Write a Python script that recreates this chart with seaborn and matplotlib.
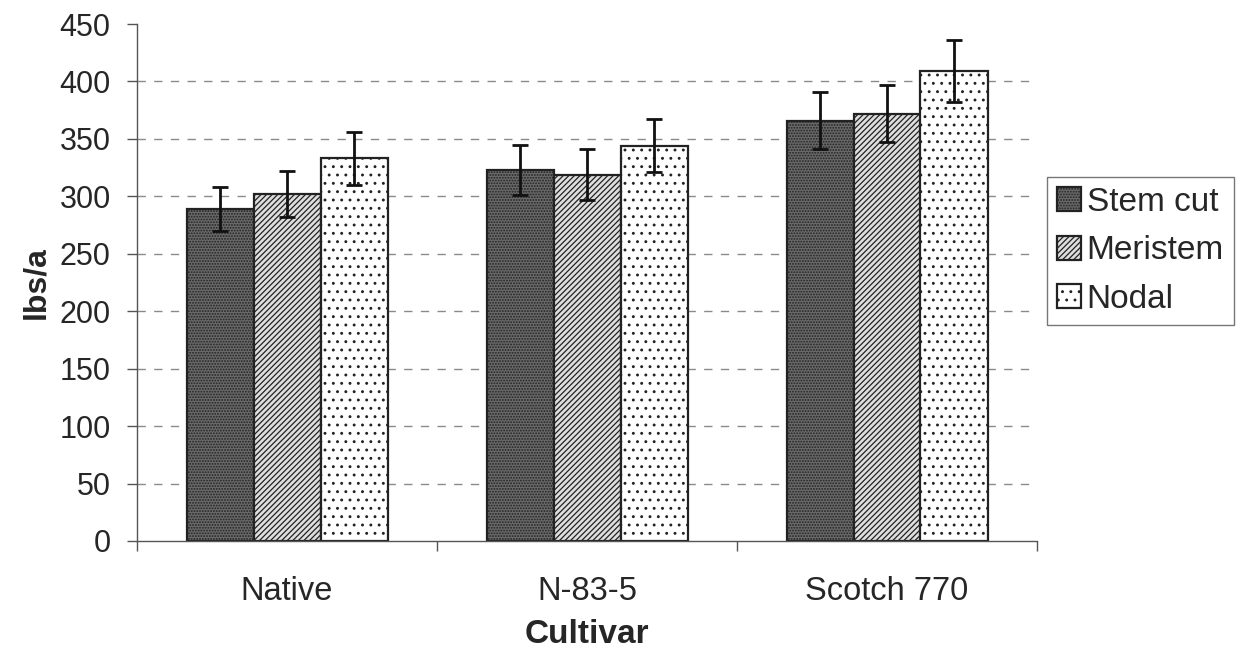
import matplotlib
matplotlib.use("Agg")
import matplotlib.pyplot as plt
import seaborn as sns
import pandas as pd
import numpy as np

# Yield by cultivar and propagation method
cultivars = ["Native", "N-83-5", "Scotch 770"]
methods = ["Stem cut", "Meristem", "Nodal"]
stem_cut = [289, 323, 366]
meristem = [302, 319, 372]
nodal = [333, 344, 409]
stem_cut_err = [19, 22, 25]
meristem_err = [20, 22, 25]
nodal_err = [23, 23, 27]

values = {"Stem cut": stem_cut, "Meristem": meristem, "Nodal": nodal}
errors = {"Stem cut": stem_cut_err, "Meristem": meristem_err, "Nodal": nodal_err}

rows = []
for m in methods:
    for c, v, e in zip(cultivars, values[m], errors[m]):
        rows.append({"Cultivar": c, "Method": m, "lbs/a": v, "err": e})
df = pd.DataFrame(rows)

sns.set_theme(style="white")
plt.rcParams["font.family"] = ["Liberation Sans", "DejaVu Sans"]
plt.rcParams["hatch.linewidth"] = 0.9

fig = plt.figure(figsize=(12.38, 6.57), dpi=100)
ax = fig.add_axes([137 / 1238, 1 - 541 / 657, 900 / 1238, 517 / 657])

fills = {"Stem cut": "#6a6a6a", "Meristem": "#dedede", "Nodal": "#ffffff"}
hatches = {"Stem cut": "......", "Meristem": "//////", "Nodal": ".."}

sns.barplot(data=df, x="Cultivar", y="lbs/a", hue="Method", order=cultivars,
            hue_order=methods, palette=fills, width=0.67, errorbar=None,
            edgecolor="black", linewidth=1.6, ax=ax, legend=True)

# apply hatching per series and add error bars at bar centres
for container, m in zip(ax.containers, methods):
    xs, ys = [], []
    for bar in container:
        bar.set_hatch(hatches[m])
        bar.set_edgecolor("#222222")
        xs.append(bar.get_x() + bar.get_width() / 2)
        ys.append(bar.get_height())
    ax.errorbar(xs, ys, yerr=errors[m], fmt="none", ecolor="#111111",
                elinewidth=2.0, capsize=6.0, capthick=2.0, zorder=5)

ax.set_ylim(0, 450)
ax.set_xlim(-0.5, 2.5)
ax.set_yticks(np.arange(0, 451, 50))
for yv in range(50, 401, 50):
    ax.axhline(yv, color="#8a8a8a", lw=1.0, ls=(0, (6, 6)), zorder=0)

for s in ["top", "right"]:
    ax.spines[s].set_visible(False)
for s in ["left", "bottom"]:
    ax.spines[s].set_color("#555555")
    ax.spines[s].set_linewidth(1.0)

ax.tick_params(axis="y", direction="out", length=7, width=1.0, color="#555555",
               labelsize=22, pad=12, left=True)
ax.tick_params(axis="x", which="major", length=0, labelsize=23.5, pad=25)
ax.set_xticks([-0.5, 0.5, 1.5, 2.5], minor=True)
ax.tick_params(axis="x", which="minor", direction="out", length=7, width=1.0,
               color="#555555", bottom=True)

ax.set_ylabel("lbs/a", fontsize=23, fontweight="bold", labelpad=6)
ax.set_xlabel("Cultivar", fontsize=24, fontweight="bold", labelpad=9)

leg = ax.legend(loc="upper left", bbox_to_anchor=(1047 / 1238, 1 - 177 / 657),
                bbox_transform=fig.transFigure, borderaxespad=0, fontsize=24,
                frameon=True, fancybox=False, edgecolor="#555555",
                handlelength=0.72, handleheight=0.72, handletextpad=0.17,
                labelspacing=0.52, borderpad=0.3)
leg.get_frame().set_linewidth(1.0)
for h, m in zip(leg.legend_handles, methods):
    h.set_hatch(hatches[m])
    h.set_edgecolor("#222222")

fig.savefig("out.png", dpi=100)
